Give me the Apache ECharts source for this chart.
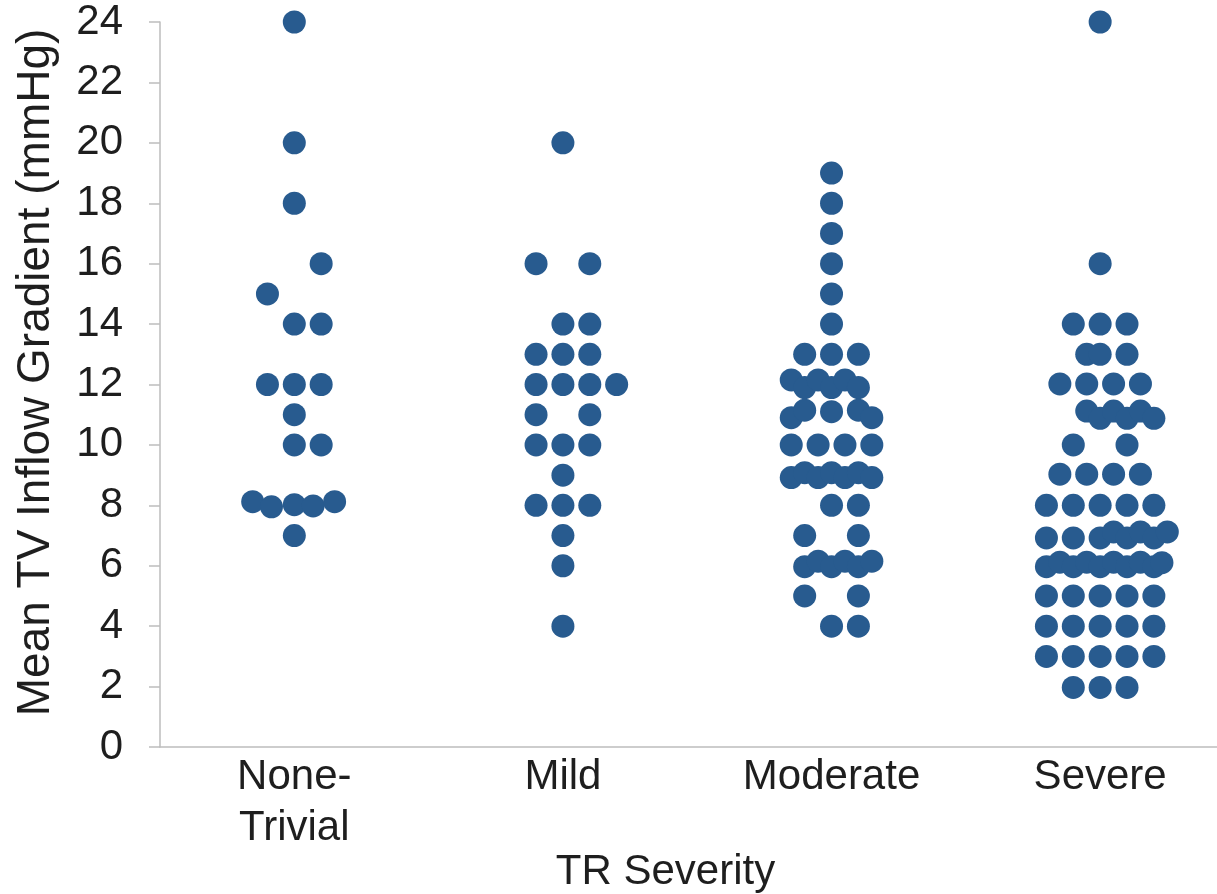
<!DOCTYPE html>
<html>
<head>
<meta charset="utf-8">
<script src="https://cdn.jsdelivr.net/npm/echarts@6/dist/echarts.min.js"></script>
<style>
html,body{margin:0;padding:0;background:#fff;}
#chart{width:1217px;height:894px;}
</style>
</head>
<body>
<div id="chart"></div>
<script>
// ---- data ----
const categories = ['None-\nTrivial', 'Mild', 'Moderate', 'Severe'];
const yTickValues = [0, 2, 4, 6, 8, 10, 12, 14, 16, 18, 20, 22, 24];

// values (mmHg) and horizontal jitter (in category units) per group
const noneTrivialValues = [24, 20, 18, 16, 15, 14, 14, 12, 12, 12, 11, 10, 10, 8.12, 7.95, 8.02, 7.98, 8.12, 7];
const noneTrivialJitter = [0, 0, 0, 0.1, -0.1, 0, 0.1, -0.1, 0, 0.1, 0, 0, 0.1, -0.155, -0.085, 0, 0.07, 0.15, 0];

const mildValues = [20, 16, 16, 14, 14, 13, 13, 13, 12, 12, 12, 12, 11, 11, 10, 10, 10, 9, 8, 8, 8, 7, 6, 4];
const mildJitter = [0, -0.1, 0.1, 0, 0.1, -0.1, 0, 0.1, -0.1, 0, 0.1, 0.2, -0.1, 0.1, -0.1, 0, 0.1, 0, -0.1, 0, 0.1, 0, 0, 0];

const moderateValues = [19, 18, 17, 16, 15, 14,
  13, 13, 13,
  12.15, 11.9, 12.15, 11.9, 12.15, 11.9,
  10.9, 11.15, 11.1, 11.15, 10.9,
  10, 10, 10, 10,
  8.92, 9.08, 8.92, 9.08, 8.92, 9.08, 8.92,
  8, 8,
  7, 7,
  5.97, 6.15, 5.97, 6.15, 5.97, 6.15,
  5, 5,
  4, 4];
const moderateJitter = [0, 0, 0, 0, 0, 0,
  -0.1, 0, 0.1,
  -0.15, -0.1, -0.05, 0, 0.05, 0.1,
  -0.15, -0.1, 0, 0.1, 0.15,
  -0.15, -0.05, 0.05, 0.15,
  -0.15, -0.1, -0.05, 0, 0.05, 0.1, 0.15,
  0, 0.1,
  -0.1, 0.1,
  -0.1, -0.05, 0, 0.05, 0.1, 0.15,
  -0.1, 0.1,
  0, 0.1];

const severeValues = [24, 16,
  14, 14, 14,
  13, 13, 13,
  12.02, 12.02, 12.02, 12.02,
  11.12, 10.88, 11.12, 10.88, 11.12, 10.88,
  10, 10,
  9.03, 9.03, 9.03, 9.03,
  8, 8, 8, 8, 8,
  6.92, 6.92, 6.92, 7.12, 6.92, 7.12, 6.92, 7.12,
  5.97, 6.12, 5.97, 6.12, 5.97, 6.12, 5.97, 6.12, 5.97, 6.1,
  5, 5, 5, 5, 5,
  4, 4, 4, 4, 4,
  3, 3, 3, 3, 3,
  1.97, 1.97, 1.97];
const severeJitter = [0, 0,
  -0.1, 0, 0.1,
  -0.05, 0, 0.1,
  -0.15, -0.05, 0.05, 0.15,
  -0.05, 0, 0.05, 0.1, 0.15, 0.2,
  -0.1, 0.1,
  -0.15, -0.05, 0.05, 0.15,
  -0.2, -0.1, 0, 0.1, 0.2,
  -0.2, -0.1, 0, 0.05, 0.1, 0.15, 0.2, 0.25,
  -0.2, -0.15, -0.1, -0.05, 0, 0.05, 0.1, 0.15, 0.2, 0.23,
  -0.2, -0.1, 0, 0.1, 0.2,
  -0.2, -0.1, 0, 0.1, 0.2,
  -0.2, -0.1, 0, 0.1, 0.2,
  -0.1, 0, 0.1];

const groups = [
  [noneTrivialValues, noneTrivialJitter],
  [mildValues, mildJitter],
  [moderateValues, moderateJitter],
  [severeValues, severeJitter]
];

// ---- chart ----
const FONT = 'Liberation Sans';
const TEXT = '#1e1e1e';
const AXIS = '#bdbdbd';
const DOT = '#285b8f';

const series = groups.map(function (g, ci) {
  return {
    type: 'scatter',
    name: categories[ci],
    symbol: 'circle',
    symbolSize: 23,
    itemStyle: { color: DOT, opacity: 1 },
    emphasis: { disabled: true },
    data: g[0].map(function (v, i) { return [ci + g[1][i], v]; })
  };
});

const chart = echarts.init(document.getElementById('chart'), null, { renderer: 'canvas' });
chart.setOption({
  animation: false,
  backgroundColor: '#ffffff',
  grid: { left: 160, right: 0, top: 22, bottom: 147, containLabel: false, outerBoundsMode: 'none' },
  xAxis: {
    type: 'value',
    min: -0.5,
    max: 3.435,
    name: 'TR Severity',
    nameLocation: 'middle',
    nameGap: 104,
    nameMoveOverlap: false,
    nameTextStyle: { fontFamily: FONT, fontSize: 42, color: TEXT, padding: [0, 46, 0, 0] },
    axisLine: { show: true, onZero: false, lineStyle: { color: AXIS, width: 1.5 } },
    axisTick: { show: false },
    splitLine: { show: false },
    axisLabel: {
      customValues: [0, 1, 2, 3],
      formatter: function (v) { return categories[Math.round(v)]; },
      fontFamily: FONT, fontSize: 42, color: TEXT, lineHeight: 51, margin: 5
    }
  },
  yAxis: {
    type: 'value',
    min: yTickValues[0],
    max: yTickValues[yTickValues.length - 1],
    interval: 2,
    name: 'Mean TV Inflow Gradient (mmHg)',
    nameLocation: 'middle',
    nameGap: 101,
    nameMoveOverlap: false,
    nameTextStyle: { fontFamily: FONT, fontSize: 46, color: TEXT, padding: [0, 0, 0, 24] },
    axisLine: { show: true, onZero: false, lineStyle: { color: AXIS, width: 1.5 } },
    axisTick: { show: true, inside: false, length: 11, lineStyle: { color: AXIS, width: 1.5 } },
    splitLine: { show: false },
    axisLabel: { fontFamily: FONT, fontSize: 42, color: TEXT, margin: 37 }
  },
  series: series
});
</script>
</body>
</html>
